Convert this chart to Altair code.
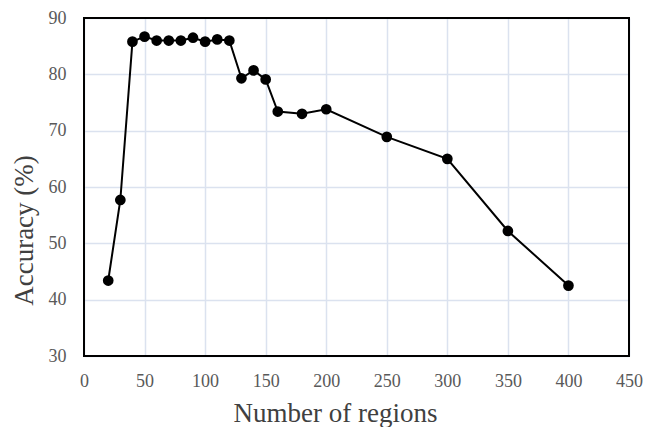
import altair as alt
import pandas as pd

# Number of regions vs. classification accuracy
regions = [20, 30, 40, 50, 60, 70, 80, 90, 100, 110, 120, 130, 140, 150,
           160, 180, 200, 250, 300, 350, 400]
accuracy = [43.4, 57.7, 85.8, 86.7, 86.0, 86.0, 86.0, 86.5, 85.8, 86.2, 86.0,
            79.3, 80.7, 79.1, 73.4, 73.0, 73.8, 68.9, 65.0, 52.2, 42.5]

df = pd.DataFrame({"regions": regions, "accuracy": accuracy})

FONT = "Liberation Serif"
W, H = 545, 338

x = alt.X("regions:Q",
          scale=alt.Scale(domain=[0, 450], nice=False, zero=False),
          axis=alt.Axis(values=list(range(0, 451, 50)), title="Number of regions",
                        labelPadding=16, labelFlush=False,
                        titleX=251, titleY=65, titleAlign="center",
                        titleBaseline="alphabetic", titleAnchor="start"))
y = alt.Y("accuracy:Q",
          scale=alt.Scale(domain=[30, 90], nice=False, zero=False),
          axis=alt.Axis(values=list(range(30, 91, 10)), title="Accuracy (%)",
                        labelPadding=18, labelFlush=False,
                        titleX=-52, titleY=212, titleAngle=270, titleAlign="center",
                        titleBaseline="alphabetic", titleAnchor="start"))

line = alt.Chart(df).mark_line(color="black", strokeWidth=2).encode(x=x, y=y)
points = alt.Chart(df).mark_point(filled=True, color="black", size=115,
                                  opacity=1, shape="circle").encode(x=x, y=y)

# plot-area frame drawn above the gridlines
frame = alt.Chart(pd.DataFrame({"k": [0]})).mark_rect(
    filled=False, stroke="black", strokeWidth=2
).encode(x=alt.value(0), x2=alt.value(W), y=alt.value(0), y2=alt.value(H))

chart = (line + points + frame).properties(
    width=W, height=H,
    autosize=alt.AutoSizeParams(type="none"),
    padding={"left": 84, "top": 18, "right": 17, "bottom": 71},
    background="white",
).configure_axis(
    grid=True, gridColor="#dbe2ef", gridWidth=1.5,
    domain=False, ticks=False,
    labelFont=FONT, labelFontSize=18, labelColor="#595959",
    titleFont=FONT, titleFontSize=27, titleColor="#404040", titleFontWeight="normal",
).configure_view(
    strokeWidth=0,
)

chart.save("out.html", embed_options={"renderer": "svg", "actions": False})
